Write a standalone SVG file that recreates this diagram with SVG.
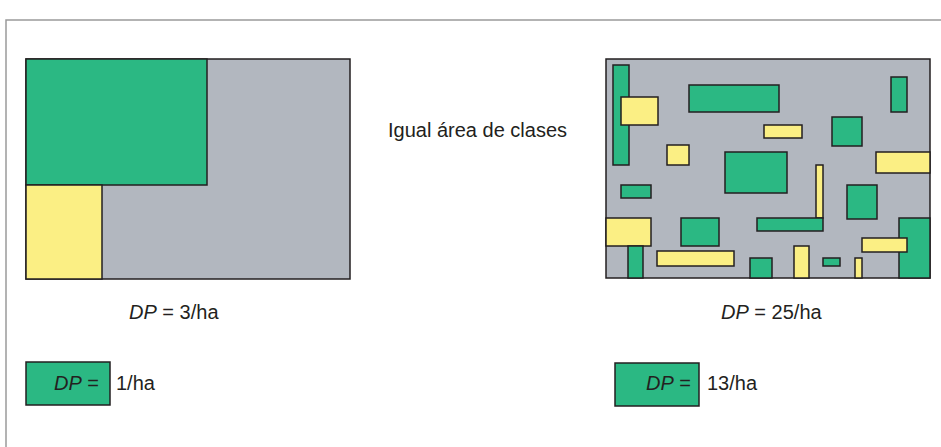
<svg xmlns="http://www.w3.org/2000/svg" width="941" height="447" viewBox="0 0 941 447">
<style>
.g{fill:#2bb883;stroke:#231f20;stroke-width:1.5}
.y{fill:#fbef84;stroke:#231f20;stroke-width:1.5}
.bg{fill:#b2b7bf;stroke:#231f20;stroke-width:1.5}
text{font-family:"Liberation Sans",Arial,sans-serif;font-size:20px;fill:#231f20}
.i{font-style:italic}
</style>
<rect width="941" height="447" fill="#ffffff"/>
<polyline points="6,447 6,20 941,20" fill="none" stroke="#9a9a9a" stroke-width="1.5"/>
<g id="left-panel">
<rect class="bg" x="26" y="59" width="324" height="220"/>
<rect class="g" x="26" y="59" width="181" height="126"/>
<rect class="y" x="26" y="185" width="76" height="94"/>
</g>
<g id="right-panel">
<rect class="bg" x="606" y="59" width="324" height="219"/>
<rect class="g" x="613" y="65" width="16" height="100"/>
<rect class="y" x="621" y="97" width="37" height="28"/>
<rect class="g" x="689" y="85" width="90" height="27"/>
<rect class="y" x="764" y="125" width="38" height="13"/>
<rect class="y" x="667" y="145" width="22" height="20"/>
<rect class="g" x="725" y="152" width="62" height="41"/>
<rect class="g" x="891" y="77" width="16" height="35"/>
<rect class="g" x="832" y="117" width="30" height="29"/>
<rect class="y" x="876" y="152" width="54" height="21"/>
<rect class="y" x="816" y="165" width="7" height="53"/>
<rect class="g" x="757" y="218" width="66" height="13"/>
<rect class="g" x="847" y="185" width="30" height="34"/>
<rect class="g" x="899" y="218" width="31" height="60"/>
<rect class="y" x="862" y="238" width="45" height="14"/>
<rect class="g" x="823" y="258" width="17" height="8"/>
<rect class="y" x="855" y="258" width="7" height="20"/>
<rect class="y" x="794" y="246" width="15" height="32"/>
<rect class="g" x="750" y="258" width="22" height="20"/>
<rect class="g" x="621" y="185" width="30" height="13"/>
<rect class="y" x="606" y="218" width="45" height="28"/>
<rect class="g" x="628" y="246" width="15" height="32"/>
<rect class="g" x="681" y="218" width="38" height="28"/>
<rect class="y" x="657" y="251" width="77" height="15"/>
</g>
<g id="label-center">
<text x="388" y="137">Igual área de clases</text>
</g>
<g id="label-left">
<text x="129" y="319"><tspan class="i">DP</tspan> = 3/ha</text>
</g>
<g id="label-right">
<text x="721" y="319"><tspan class="i">DP</tspan> = 25/ha</text>
</g>
<g id="legend-left">
<rect class="g" x="26" y="362" width="84" height="43"/>
<text x="54" y="390"><tspan class="i">DP</tspan> =</text>
<text x="116" y="390">1/ha</text>
</g>
<g id="legend-right">
<rect class="g" x="615" y="363" width="84" height="43"/>
<text x="646" y="390"><tspan class="i">DP</tspan> =</text>
<text x="707" y="390">13/ha</text>
</g>
</svg>
